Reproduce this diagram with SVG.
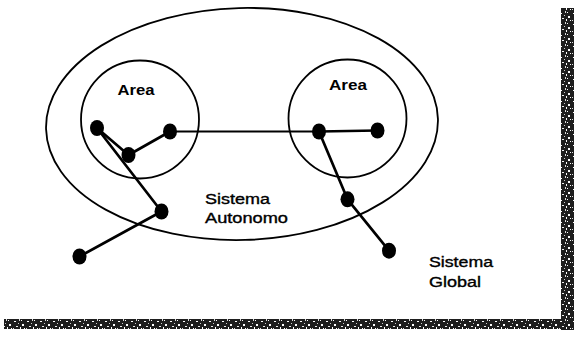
<svg xmlns="http://www.w3.org/2000/svg" width="579" height="339" viewBox="0 0 579 339">
  <style>
    .region { fill: none; stroke: #000; stroke-width: 1.8; }
    .edge { stroke: #000; stroke-width: 2.7; stroke-linecap: round; fill: none; }
    .thin { stroke-width: 2; }
    .node { fill: #000; }
    .lbl { font-family: "Liberation Sans", Arial, sans-serif; font-size: 14px; fill: #000; stroke: #000; stroke-width: 0.35; }
    .bold { font-weight: bold; stroke-width: 0; }
    .bar { fill: #1e1e1e; }
  </style>
  <defs>
    <pattern id="noise" width="13" height="11" patternUnits="userSpaceOnUse">
      <rect x="1" y="2" width="2" height="1" fill="#fff"/>
      <rect x="6" y="0" width="1" height="2" fill="#ddd"/>
      <rect x="9" y="5" width="2" height="2" fill="#fff"/>
      <rect x="3" y="7" width="2" height="1" fill="#eee"/>
      <rect x="11" y="9" width="1" height="1" fill="#fff"/>
      <rect x="5" y="4" width="1" height="1" fill="#ccc"/>
      <rect x="8" y="1" width="1" height="1" fill="#fff"/>
      <rect x="0" y="9" width="1" height="1" fill="#ddd"/>
      <rect x="7" y="8" width="1" height="2" fill="#fff"/>
    </pattern>
  </defs>
  <rect width="579" height="339" fill="#fff"/>

  <g id="border">
    <rect class="bar" x="561" y="8" width="13" height="322"/>
    <rect class="bar" x="4" y="319" width="570" height="10"/>
    <rect x="561" y="8" width="13" height="322" fill="url(#noise)"/>
    <rect x="4" y="319" width="570" height="10" fill="url(#noise)"/>
  </g>

  <g id="sistema-autonomo">
    <ellipse class="region" cx="242" cy="124" rx="196" ry="116" transform="rotate(-1.5 242 124)"/>
    <text class="lbl" x="205" y="203.5" textLength="65" lengthAdjust="spacingAndGlyphs">Sistema</text>
    <text class="lbl" x="205" y="222.5" textLength="83" lengthAdjust="spacingAndGlyphs">Autonomo</text>
  </g>

  <g id="area-left">
    <circle class="region" cx="140" cy="119.5" r="59"/>
    <text class="lbl bold" x="117.5" y="95" textLength="37" lengthAdjust="spacingAndGlyphs">Area</text>
  </g>

  <g id="area-right">
    <circle class="region" cx="347.5" cy="118.5" r="59"/>
    <text class="lbl bold" x="329" y="89.5" textLength="38" lengthAdjust="spacingAndGlyphs">Area</text>
  </g>

  <g id="sistema-global">
    <text class="lbl" x="429" y="267" font-size="15" textLength="64" lengthAdjust="spacingAndGlyphs">Sistema</text>
    <text class="lbl" x="429" y="287" font-size="15" textLength="52" lengthAdjust="spacingAndGlyphs">Global</text>
  </g>

  <g id="connectors">
    <line class="edge" x1="97" y1="128" x2="128.5" y2="155"/>
    <line class="edge" x1="128.5" y1="155" x2="170" y2="131.5"/>
    <line class="edge thin" x1="170" y1="131.5" x2="319" y2="131.5"/>
    <line class="edge" x1="319" y1="131.5" x2="377.5" y2="130.5"/>
    <line class="edge" x1="97" y1="128" x2="161.5" y2="211.5"/>
    <line class="edge" x1="161.5" y1="211.5" x2="79.5" y2="256.5"/>
    <line class="edge" x1="319" y1="131.5" x2="347.5" y2="199.3"/>
    <line class="edge" x1="347.5" y1="199.3" x2="389" y2="250.7"/>
  </g>

  <g id="node-a"><ellipse class="node" cx="97" cy="128" rx="7" ry="8"/></g>
  <g id="node-b"><ellipse class="node" cx="128.5" cy="155" rx="7" ry="8"/></g>
  <g id="node-c"><ellipse class="node" cx="170" cy="131.5" rx="7" ry="8"/></g>
  <g id="node-d"><ellipse class="node" cx="161.5" cy="211.5" rx="7" ry="8"/></g>
  <g id="node-e"><ellipse class="node" cx="79.5" cy="256.5" rx="7" ry="8"/></g>
  <g id="node-f"><ellipse class="node" cx="319" cy="131.5" rx="7" ry="8"/></g>
  <g id="node-g"><ellipse class="node" cx="377.5" cy="130.5" rx="7" ry="8"/></g>
  <g id="node-h"><ellipse class="node" cx="347.5" cy="199.3" rx="7" ry="8"/></g>
  <g id="node-i"><ellipse class="node" cx="389" cy="250.7" rx="7" ry="8"/></g>
</svg>
